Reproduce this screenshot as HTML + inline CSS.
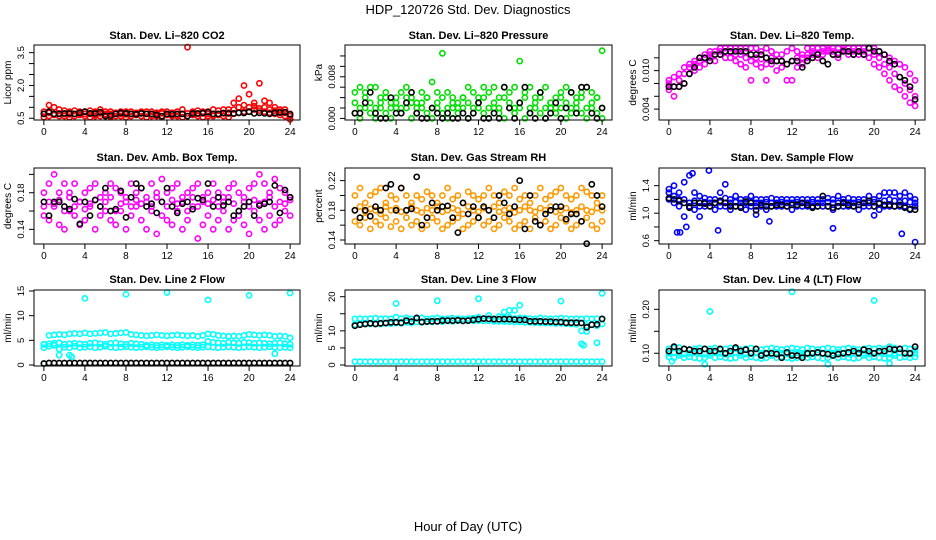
<!DOCTYPE html>
<html><head><meta charset="utf-8"><style>
body{margin:0;background:#fff;}
svg{display:block;font-family:"Liberation Sans",Arial,sans-serif;}
</style></head><body>
<svg id="chart" width="936" height="540" viewBox="0 0 936 540">
<rect width="936" height="540" fill="#fff"/>
<text x="468" y="14" text-anchor="middle" font-size="13">HDP_120726  Std. Dev. Diagnostics</text>
<text x="468" y="531" text-anchor="middle" font-size="13">Hour of Day (UTC)</text>
</svg>
<script>
const hours = [0,0.5,1,1.5,2,2.5,3,3.5,4,4.5,5,5.5,6,6.5,7,7.5,8,8.5,9,9.5,10,10.5,11,11.5,12,12.5,13,13.5,14,14.5,15,15.5,16,16.5,17,17.5,18,18.5,19,19.5,20,20.5,21,21.5,22,22.5,23,23.5,24];
const xTicks = [0,4,8,12,16,20,24];

// Panel 1 CO2
const co2Hi = [0.8,1.1,1.0,0.9,0.85,0.8,0.85,0.8,0.8,0.85,0.8,0.9,0.8,0.8,0.75,0.8,0.8,0.8,0.75,0.8,0.8,0.8,0.75,0.8,0.8,0.75,0.8,0.9,3.75,0.8,0.85,0.8,0.8,0.9,0.85,0.9,0.9,1.2,1.4,2.0,1.6,1.2,2.1,1.3,1.2,1.0,0.9,0.9,0.6];
const co2Lo = [0.55,0.6,0.65,0.6,0.6,0.55,0.6,0.65,0.6,0.55,0.6,0.6,0.65,0.55,0.6,0.6,0.55,0.6,0.65,0.6,0.55,0.6,0.6,0.55,0.65,0.6,0.6,0.55,0.6,0.65,0.6,0.55,0.6,0.6,0.65,0.6,0.55,0.7,0.75,0.8,0.8,0.9,0.85,0.8,0.75,0.7,0.65,0.6,0.45];
const co2Mid = [0.7,0.75,0.7,0.72,0.7,0.68,0.7,0.72,0.7,0.7,0.68,0.72,0.7,0.7,0.72,0.7,0.68,0.7,0.7,0.72,0.7,0.68,0.7,0.72,0.7,0.7,0.68,0.7,0.72,0.7,0.7,0.72,0.7,0.68,0.7,0.72,0.75,0.9,1.0,1.1,1.0,1.05,0.95,1.0,0.9,0.85,0.8,0.75,0.7];
const co2Blk = [0.7,0.8,0.7,0.7,0.72,0.72,0.7,0.75,0.8,0.72,0.72,0.78,0.6,0.62,0.7,0.75,0.72,0.7,0.68,0.72,0.7,0.7,0.65,0.6,0.7,0.68,0.7,0.7,0.6,0.72,0.72,0.74,0.78,0.7,0.7,0.74,0.72,0.72,0.75,0.74,0.8,0.72,0.75,0.72,0.7,0.75,0.76,0.78,0.68];

// Panel 2 Pressure
const prsHi = [0.005,0.006,0.005,0.006,0.006,0.004,0.005,0.003,0.004,0.005,0.006,0.004,0.003,0.005,0.004,0.007,0.005,0.0125,0.005,0.004,0.003,0.004,0.006,0.005,0.004,0.006,0.005,0.006,0.004,0.006,0.005,0.006,0.011,0.005,0.006,0.004,0.005,0.006,0.003,0.004,0.005,0.006,0.005,0.004,0.005,0.006,0.005,0.004,0.013];
const prsMid = [0.003,0.002,0.004,0.003,0.002,0.003,0.004,0.002,0.003,0.002,0.004,0.003,0.002,0.003,0.004,0.002,0.003,0.004,0.002,0.003,0.002,0.004,0.003,0.002,0.003,0.004,0.002,0.003,0.002,0.004,0.003,0.002,0.003,0.004,0.002,0.003,0.004,0.002,0.003,0.002,0.004,0.003,0.002,0.003,0.004,0.002,0.003,0.004,0.002];
const prsLo = [0.001,0.0,0.002,0.001,0.0,0.002,0.001,0.0,0.002,0.001,0.002,0.0,0.001,0.002,0.001,0.0,0.002,0.001,0.0,0.002,0.001,0.002,0.0,0.001,0.002,0.001,0.0,0.002,0.001,0.0,0.002,0.001,0.002,0.0,0.001,0.002,0.001,0.0,0.002,0.001,0.002,0.0,0.001,0.002,0.001,0.0,0.002,0.001,0.0];
const prsBlk = [0.001,0.001,0.003,0.005,0.001,0.0,0.0,0.004,0.001,0.001,0.003,0.005,0.001,0.0,0.0,0.002,0.001,0.0,0.001,0.0,0.0,0.001,0.0,0.001,0.003,0.0,0.0,0.001,0.0,0.006,0.002,0.0,0.003,0.006,0.001,0.0,0.005,0.0,0.001,0.003,0.0,0.002,0.005,0.001,0.006,0.006,0.001,0.0,0.002];

// Panel 3 Li-820 Temp
const tmpHi = [0.0085,0.009,0.0095,0.0105,0.011,0.0115,0.012,0.0125,0.013,0.013,0.0135,0.0135,0.0135,0.0135,0.0135,0.0135,0.0135,0.0135,0.013,0.0135,0.013,0.0125,0.0125,0.013,0.0135,0.013,0.0125,0.0135,0.0135,0.0135,0.0135,0.0135,0.0135,0.0135,0.0135,0.0135,0.0135,0.0135,0.0135,0.0135,0.0135,0.013,0.0125,0.012,0.0115,0.011,0.0105,0.0095,0.0085];
const tmpLo = [0.007,0.006,0.0075,0.008,0.0095,0.01,0.0105,0.011,0.012,0.0115,0.0125,0.012,0.012,0.0115,0.011,0.0105,0.0085,0.011,0.0105,0.0085,0.011,0.01,0.0105,0.0085,0.0085,0.0105,0.011,0.012,0.0125,0.012,0.0125,0.013,0.0125,0.012,0.013,0.0125,0.0125,0.0125,0.0125,0.012,0.011,0.0105,0.0095,0.0085,0.0075,0.007,0.006,0.005,0.0045];
const tmpMid = [0.008,0.0075,0.0085,0.0095,0.0105,0.011,0.0115,0.012,0.0125,0.0125,0.013,0.013,0.0128,0.0125,0.0125,0.012,0.0115,0.012,0.0118,0.011,0.012,0.0115,0.0115,0.011,0.0115,0.012,0.012,0.0125,0.013,0.0128,0.013,0.0132,0.013,0.0128,0.0132,0.013,0.013,0.013,0.013,0.0128,0.0125,0.012,0.011,0.0105,0.0095,0.009,0.008,0.007,0.006];
const tmpBlk = [0.0075,0.0075,0.0075,0.008,0.0095,0.0105,0.012,0.012,0.0115,0.0125,0.0125,0.013,0.013,0.013,0.013,0.013,0.0125,0.0125,0.0125,0.012,0.0115,0.0115,0.0115,0.011,0.0115,0.0115,0.0105,0.0115,0.012,0.0125,0.0115,0.011,0.0125,0.0125,0.013,0.013,0.0125,0.013,0.0125,0.0135,0.013,0.013,0.0125,0.0115,0.011,0.009,0.0085,0.0075,0.0055];

// Panel 4 Amb Box Temp
const ambHi = [0.18,0.19,0.2,0.18,0.19,0.18,0.19,0.17,0.18,0.185,0.19,0.175,0.18,0.19,0.185,0.18,0.175,0.19,0.18,0.185,0.175,0.19,0.18,0.195,0.18,0.185,0.19,0.175,0.18,0.185,0.19,0.175,0.18,0.19,0.18,0.175,0.185,0.19,0.18,0.175,0.185,0.19,0.2,0.19,0.18,0.195,0.185,0.18,0.175];
const ambLo = [0.155,0.15,0.165,0.145,0.14,0.16,0.155,0.145,0.15,0.165,0.14,0.155,0.16,0.15,0.145,0.16,0.14,0.155,0.165,0.15,0.14,0.16,0.135,0.155,0.15,0.145,0.16,0.14,0.15,0.165,0.13,0.145,0.155,0.14,0.15,0.16,0.14,0.15,0.155,0.145,0.135,0.16,0.15,0.14,0.155,0.145,0.15,0.16,0.155];
const ambMid = [0.165,0.17,0.168,0.172,0.16,0.175,0.165,0.17,0.162,0.168,0.172,0.165,0.17,0.175,0.16,0.168,0.17,0.165,0.172,0.168,0.17,0.165,0.175,0.17,0.165,0.172,0.168,0.17,0.16,0.175,0.165,0.17,0.168,0.172,0.165,0.17,0.175,0.168,0.16,0.17,0.165,0.172,0.168,0.17,0.175,0.165,0.17,0.168,0.172];
const ambBlk = [0.17,0.155,0.17,0.17,0.165,0.162,0.173,0.146,0.17,0.155,0.172,0.165,0.185,0.16,0.162,0.182,0.153,0.175,0.19,0.185,0.165,0.168,0.158,0.17,0.185,0.165,0.158,0.168,0.17,0.162,0.174,0.172,0.19,0.165,0.175,0.166,0.17,0.155,0.16,0.165,0.17,0.155,0.166,0.168,0.17,0.188,0.158,0.183,0.175];

// Panel 5 Gas Stream RH
const rhHi = [0.2,0.21,0.19,0.2,0.205,0.21,0.19,0.2,0.195,0.21,0.2,0.19,0.2,0.195,0.205,0.2,0.19,0.2,0.21,0.195,0.2,0.19,0.205,0.2,0.195,0.2,0.21,0.2,0.19,0.205,0.2,0.21,0.195,0.2,0.19,0.2,0.21,0.195,0.2,0.205,0.21,0.2,0.195,0.2,0.21,0.205,0.2,0.19,0.2];
const rhLo = [0.165,0.16,0.17,0.155,0.165,0.16,0.17,0.158,0.165,0.155,0.17,0.16,0.165,0.155,0.16,0.17,0.165,0.155,0.16,0.165,0.17,0.155,0.16,0.165,0.17,0.16,0.165,0.155,0.16,0.17,0.165,0.155,0.16,0.165,0.155,0.17,0.16,0.165,0.155,0.16,0.17,0.165,0.155,0.16,0.165,0.17,0.16,0.155,0.165];
const rhMid = [0.18,0.185,0.178,0.182,0.18,0.175,0.185,0.18,0.183,0.178,0.18,0.185,0.18,0.177,0.183,0.18,0.185,0.178,0.18,0.183,0.18,0.175,0.185,0.18,0.178,0.183,0.18,0.185,0.178,0.18,0.183,0.177,0.18,0.185,0.18,0.178,0.183,0.18,0.185,0.178,0.18,0.183,0.177,0.18,0.185,0.18,0.178,0.183,0.18];
const rhBlk = [0.18,0.17,0.18,0.172,0.185,0.18,0.21,0.215,0.18,0.21,0.18,0.182,0.225,0.16,0.17,0.19,0.18,0.185,0.186,0.17,0.15,0.19,0.175,0.185,0.17,0.185,0.18,0.17,0.2,0.19,0.175,0.185,0.22,0.155,0.2,0.165,0.16,0.175,0.18,0.185,0.185,0.168,0.175,0.175,0.165,0.135,0.215,0.2,0.185];

// Panel 6 Sample Flow
const sfHi = [1.35,1.4,1.3,1.45,1.55,1.3,1.25,1.22,1.2,1.2,1.3,1.22,1.2,1.25,1.2,1.2,1.25,1.2,1.2,1.2,1.22,1.2,1.2,1.2,1.2,1.2,1.2,1.2,1.2,1.2,1.2,1.22,1.2,1.25,1.2,1.22,1.2,1.2,1.2,1.25,1.2,1.25,1.3,1.3,1.3,1.25,1.3,1.25,1.2];
const sfLo = [1.2,1.15,1.1,0.95,1.1,1.05,1.1,1.1,1.1,1.05,1.1,1.1,1.05,1.1,1.1,1.05,1.1,1.1,1.1,1.05,1.1,1.1,1.1,1.1,1.05,1.1,1.1,1.1,1.1,1.1,1.1,1.1,1.05,1.1,1.1,1.1,1.1,1.05,1.1,1.1,1.1,1.05,1.1,1.1,1.1,1.1,1.1,1.05,1.1];
const sfMid = [1.3,1.25,1.2,1.2,1.15,1.18,1.15,1.16,1.15,1.15,1.16,1.15,1.15,1.16,1.15,1.15,1.16,1.15,1.15,1.16,1.15,1.15,1.16,1.15,1.15,1.16,1.15,1.15,1.16,1.15,1.15,1.16,1.15,1.15,1.16,1.15,1.15,1.16,1.15,1.15,1.16,1.15,1.18,1.2,1.18,1.16,1.18,1.16,1.15];
const sfBlk = [1.22,1.2,1.18,1.15,1.08,1.15,1.15,1.14,1.1,1.15,1.18,1.15,1.1,1.1,1.08,1.17,1.15,1.04,1.12,1.1,1.1,1.12,1.12,1.1,1.12,1.12,1.15,1.12,1.08,1.1,1.25,1.1,1.08,1.1,1.15,1.12,1.1,1.12,1.15,1.18,1.1,1.14,1.12,1.12,1.1,1.12,1.08,1.06,1.05];
const sfOutHours = [0.8,1.1,1.7,2.3,3.0,3.9,4.8,5.5,8.5,9.8,16.0,20.0,22.7,24.0];
const sfOutVals = [0.72,0.72,0.8,1.58,0.95,1.62,0.75,1.42,0.98,0.88,0.78,0.97,0.7,0.58];

// Panel 7 Line 2 Flow
const l2Hi = [4.2,6.0,6.1,6.2,6.1,6.3,6.4,6.3,6.5,6.3,6.4,6.5,6.6,6.3,6.4,6.5,6.6,6.2,6.1,6.0,5.9,6.0,6.1,6.0,5.9,6.0,6.1,6.0,5.9,6.0,5.8,6.0,6.3,6.2,6.0,5.9,5.8,5.9,5.8,6.0,6.2,6.1,6.0,6.1,6.0,5.8,5.9,5.8,5.5];
const l2Lo = [3.5,3.8,4.0,3.2,3.6,3.5,3.8,3.5,3.6,3.7,3.5,3.6,3.8,3.6,3.5,3.6,3.7,3.6,3.5,3.6,3.7,3.6,3.5,3.6,3.7,3.6,3.5,3.6,3.7,3.6,3.5,3.6,3.7,3.6,3.5,3.6,3.7,3.6,3.5,3.6,3.7,3.6,3.5,3.6,3.7,3.6,3.5,3.6,3.5];
const l2Mid = [4.2,4.3,4.4,4.5,4.2,4.3,4.4,4.3,4.2,4.4,4.5,4.3,4.2,4.4,4.5,4.3,4.2,4.4,4.3,4.2,4.0,4.1,4.0,4.1,4.0,4.1,4.0,4.1,4.0,4.1,4.0,4.1,4.8,4.6,4.5,4.4,4.6,4.5,4.4,4.6,4.5,4.4,4.5,4.4,4.3,4.4,4.5,4.3,4.2];
const l2Blk = [0.3,0.4,0.4,0.4,0.4,0.4,0.4,0.4,0.4,0.4,0.4,0.4,0.4,0.4,0.4,0.4,0.4,0.4,0.4,0.4,0.4,0.4,0.4,0.4,0.4,0.4,0.4,0.4,0.4,0.4,0.4,0.4,0.4,0.4,0.4,0.4,0.4,0.4,0.4,0.4,0.4,0.4,0.4,0.4,0.4,0.4,0.4,0.4,0.4];
const l2OutHours = [4,8,12,16,20,24,1.5,2.5,2.7,22.5,0];
const l2OutVals = [13.5,14.3,14.7,13.2,14.1,14.6,2.0,2.0,1.7,2.3,0.3];

// Panel 8 Line 3 Flow
const l3Hi = [13.5,13.6,13.5,13.6,13.7,13.5,13.6,13.5,14.0,13.6,13.8,13.5,13.6,13.8,13.5,13.6,13.8,13.5,13.6,13.7,13.6,13.5,13.6,13.7,14.0,13.6,14.5,13.6,14.2,13.8,14.0,13.6,13.8,13.7,13.6,13.5,13.8,13.6,13.5,13.6,13.7,13.6,13.5,13.6,13.5,13.6,13.5,13.6,13.5];
const l3Lo = [11.8,12.0,12.2,12.0,12.1,12.0,12.2,12.1,12.3,12.2,12.5,12.4,12.6,12.5,12.8,12.6,12.8,12.7,12.9,12.8,13.0,12.9,13.0,12.9,13.0,12.9,12.9,12.8,12.8,12.7,12.7,12.6,12.6,12.5,12.5,12.4,12.4,12.3,12.3,12.2,12.2,12.1,12.0,11.9,10.0,11.5,11.8,11.5,12.0];
const l3Base = [1.0,1.0,1.0,1.0,1.0,1.0,1.0,1.0,1.0,1.0,1.0,1.0,1.0,1.0,1.0,1.0,1.0,1.0,1.0,1.0,1.0,1.0,1.0,1.0,1.0,1.0,1.0,1.0,1.0,1.0,1.0,1.0,1.0,1.0,1.0,1.0,1.0,1.0,1.0,1.0,1.0,1.0,1.0,1.0,1.0,1.0,1.0,1.0,1.0];
const l3Blk = [11.5,11.8,12.0,12.2,12.0,12.2,12.3,12.5,12.5,12.4,13.0,12.7,13.8,12.6,12.7,12.8,12.8,13.0,13.0,13.0,13.1,12.9,13.0,13.2,13.4,13.6,13.5,13.4,13.4,13.4,13.4,13.3,13.2,13.2,12.8,12.8,12.8,12.7,12.7,12.6,12.6,12.4,12.4,12.4,12.3,11.0,11.8,11.9,13.5];
const l3OutHours = [4,8,12,15,16,20,24,22,22.2,22.5,23.5,14.5,15.5];
const l3OutVals = [18.0,18.8,19.4,16.0,17.5,18.7,21.0,6.2,5.8,9.8,6.5,15.5,16.0];

// Panel 9 Line 4 (LT) Flow
const l4Hi = [0.11,0.112,0.113,0.11,0.108,0.11,0.112,0.11,0.11,0.112,0.108,0.11,0.112,0.11,0.108,0.11,0.112,0.11,0.108,0.11,0.112,0.11,0.108,0.11,0.112,0.11,0.108,0.112,0.11,0.108,0.11,0.112,0.11,0.108,0.11,0.112,0.11,0.108,0.11,0.112,0.11,0.112,0.11,0.115,0.112,0.11,0.112,0.11,0.108];
const l4Lo = [0.092,0.09,0.095,0.09,0.092,0.09,0.088,0.09,0.095,0.09,0.092,0.09,0.088,0.09,0.095,0.09,0.092,0.09,0.088,0.09,0.095,0.09,0.092,0.09,0.088,0.09,0.095,0.09,0.092,0.09,0.088,0.09,0.095,0.09,0.092,0.09,0.088,0.09,0.095,0.09,0.092,0.09,0.088,0.09,0.095,0.09,0.092,0.09,0.092];
const l4Mid = [0.1,0.102,0.1,0.098,0.1,0.102,0.1,0.098,0.1,0.102,0.1,0.098,0.1,0.102,0.1,0.098,0.1,0.102,0.1,0.098,0.1,0.102,0.1,0.098,0.1,0.102,0.1,0.098,0.1,0.102,0.1,0.098,0.1,0.102,0.1,0.098,0.1,0.102,0.1,0.098,0.1,0.102,0.1,0.098,0.1,0.102,0.1,0.098,0.1];
const l4Blk = [0.105,0.115,0.105,0.11,0.108,0.105,0.105,0.11,0.105,0.105,0.11,0.1,0.105,0.113,0.105,0.108,0.1,0.11,0.095,0.1,0.1,0.098,0.09,0.102,0.095,0.095,0.09,0.1,0.1,0.102,0.1,0.098,0.095,0.098,0.1,0.102,0.105,0.1,0.108,0.105,0.1,0.105,0.105,0.11,0.108,0.11,0.1,0.1,0.115];
const l4OutHours = [4,12,20,3.5,15.5,21.5,0.3];
const l4OutVals = [0.195,0.24,0.22,0.075,0.075,0.077,0.082];

const NS = 'http://www.w3.org/2000/svg';
const svg = document.getElementById('chart');
function mk(tag, attrs, parent){
  const e = document.createElementNS(NS, tag);
  for (const k in attrs) e.setAttribute(k, attrs[k]);
  (parent||svg).appendChild(e);
  return e;
}
const cols = [[34,300],[345,612],[659,925]];
const rows = [[45,120],[168,244],[290,366]];
const titleY = [39,161,283];

const panels = [
 {name:'co2', title:'Stan. Dev. Li\u2013820 CO2', ylab:'Licor ppm', c:0,r:0, ymin:0.42, ymax:3.85, ticks:[0.5,1,1.5,2,2.5,3,3.5], labels:{'0.5':'0.5','2':'2.0','3.5':'3.5'},
  series:[[hours,co2Lo,'#ff0000'],[hours,co2Mid,'#ff0000'],[hours,co2Hi,'#ff0000'],[hours,co2Blk,'#000']]},
 {name:'pressure', title:'Stan. Dev. Li\u2013820 Pressure', ylab:'kPa', ylabY:-10, c:1,r:0, ymin:-0.0003, ymax:0.0141, ticks:[0,0.002,0.004,0.006,0.008,0.01,0.012], labels:{'0':'0.000','0.008':'0.008'},
  series:[[hours,prsLo,'#00dd00'],[hours,prsMid,'#00dd00'],[hours,prsHi,'#00dd00'],[hours,prsBlk,'#000']]},
 {name:'li820-temp', title:'Stan. Dev. Li\u2013820 Temp.', ylab:'degrees C', c:2,r:0, ymin:0.0023, ymax:0.014, ticks:[0.004,0.006,0.008,0.01,0.012], labels:{'0.004':'0.004','0.01':'0.010'},
  series:[[hours,tmpLo,'#ff00ff'],[hours,tmpMid,'#ff00ff'],[hours,tmpHi,'#ff00ff'],[hours,tmpBlk,'#000']]},
 {name:'amb-box-temp', title:'Stan. Dev. Amb. Box Temp.', ylab:'degrees C', c:0,r:1, ymin:0.124, ymax:0.207, ticks:[0.14,0.16,0.18,0.2], labels:{'0.14':'0.14','0.18':'0.18'},
  series:[[hours,ambLo,'#ff00ff'],[hours,ambMid,'#ff00ff'],[hours,ambHi,'#ff00ff'],[hours,ambBlk,'#000']]},
 {name:'gas-stream-rh', title:'Stan. Dev. Gas Stream RH', ylab:'percent', c:1,r:1, ymin:0.1346, ymax:0.237, ticks:[0.14,0.16,0.18,0.2,0.22], labels:{'0.14':'0.14','0.18':'0.18','0.22':'0.22'},
  series:[[hours,rhLo,'#ff9900'],[hours,rhMid,'#ff9900'],[hours,rhHi,'#ff9900'],[hours,rhBlk,'#000']]},
 {name:'sample-flow', title:'Stan. Dev. Sample Flow', ylab:'ml/min', c:2,r:1, ymin:0.552, ymax:1.657, ticks:[0.6,0.8,1.0,1.2,1.4], labels:{'0.6':'0.6','1':'1.0','1.4':'1.4'},
  series:[[hours,sfLo,'#0000ff'],[hours,sfMid,'#0000ff'],[hours,sfHi,'#0000ff'],[sfOutHours,sfOutVals,'#0000ff'],[hours,sfBlk,'#000']]},
 {name:'line2-flow', title:'Stan. Dev. Line 2 Flow', ylab:'ml/min', c:0,r:2, ymin:-0.2, ymax:15.2, ticks:[0,5,10,15], labels:{'0':'0','5':'5','10':'10','15':'15'},
  series:[[hours,l2Lo,'#00ffff'],[hours,l2Mid,'#00ffff'],[hours,l2Hi,'#00ffff'],[l2OutHours,l2OutVals,'#00ffff'],[hours,l2Blk,'#000']]},
 {name:'line3-flow', title:'Stan. Dev. Line 3 Flow', ylab:'ml/min', c:1,r:2, ymin:-0.29, ymax:21.96, ticks:[0,5,10,15,20], labels:{'0':'0','5':'5','10':'10','20':'20'},
  series:[[hours,l3Base,'#00ffff'],[hours,l3Lo,'#00ffff'],[hours,l3Hi,'#00ffff'],[l3OutHours,l3OutVals,'#00ffff'],[hours,l3Blk,'#000']]},
 {name:'line4-flow', title:'Stan. Dev. Line 4 (LT) Flow', ylab:'ml/min', c:2,r:2, ymin:0.071, ymax:0.244, ticks:[0.1,0.15,0.2], labels:{'0.1':'0.10','0.2':'0.20'},
  series:[[hours,l4Lo,'#00ffff'],[hours,l4Mid,'#00ffff'],[hours,l4Hi,'#00ffff'],[l4OutHours,l4OutVals,'#00ffff'],[hours,l4Blk,'#000']]}
];

panels.forEach(p => {
  const [x0,x1] = cols[p.c], [y0,y1] = rows[p.r];
  const xs = h => x0 + (h + 0.96) / 25.92 * (x1 - x0);
  const ys = v => y1 - (v - p.ymin) / (p.ymax - p.ymin) * (y1 - y0);
  const g = mk('g', {});
  
  
  const t = mk('text', {x:(x0+x1)/2, y:titleY[p.r], 'text-anchor':'middle', 'font-size':'11', 'font-weight':'bold'}, g);
  t.textContent = p.title;
  
  
  const mg = mk('g', {fill:'none', 'stroke-width':'1.6'}, g);
  
  
  p.series.forEach(s => {
    const [hx, vals, col] = s;
    vals.forEach((v, i) => {
      const c = mk('circle', {cx:xs(hx[i]).toFixed(1), cy:ys(v).toFixed(1), r:'2.6', stroke:col}, mg);
      
      
    });
  });
  const box = mk('rect', {x:x0, y:y0, width:x1-x0, height:y1-y0, fill:'none', stroke:'#000', 'stroke-width':'1'}, g);
  
  
  const xa = mk('g', {stroke:'#000', 'stroke-width':'1'}, g);
  
  
  mk('line', {x1:xs(0), x2:xs(24), y1:y1, y2:y1}, xa);
  xTicks.forEach(h => {
    mk('line', {x1:xs(h), x2:xs(h), y1:y1, y2:y1+5}, xa);
    const tl = mk('text', {x:xs(h), y:y1+15, 'text-anchor':'middle', 'font-size':'10', stroke:'none', fill:'#000'}, xa);
    tl.textContent = h;
    
    
  });
  const ya = mk('g', {stroke:'#000', 'stroke-width':'1'}, g);
  
  
  const tk = p.ticks;
  mk('line', {x1:x0, x2:x0, y1:ys(tk[0]), y2:ys(tk[tk.length-1])}, ya);
  tk.forEach(v => {
    mk('line', {x1:x0-5, x2:x0, y1:ys(v), y2:ys(v)}, ya);
    const key = String(+v.toFixed(6));
    if (p.labels[key] !== undefined) {
      const yy = ys(v), xx = x0 - 10;
      const tl = mk('text', {x:xx, y:yy, transform:`rotate(-90 ${xx} ${yy})`, 'text-anchor':'middle', 'font-size':'9.5', stroke:'none', fill:'#000'}, ya);
      tl.textContent = p.labels[key];
      
      
    }
  });
  const ly = (y0+y1)/2 + (p.ylabY||0), lx = x0 - 23;
  const yl = mk('text', {x:lx, y:ly, transform:`rotate(-90 ${lx} ${ly})`, 'text-anchor':'middle', 'font-size':'10'}, g);
  yl.textContent = p.ylab;
  
  
});
</script>
</body></html>
